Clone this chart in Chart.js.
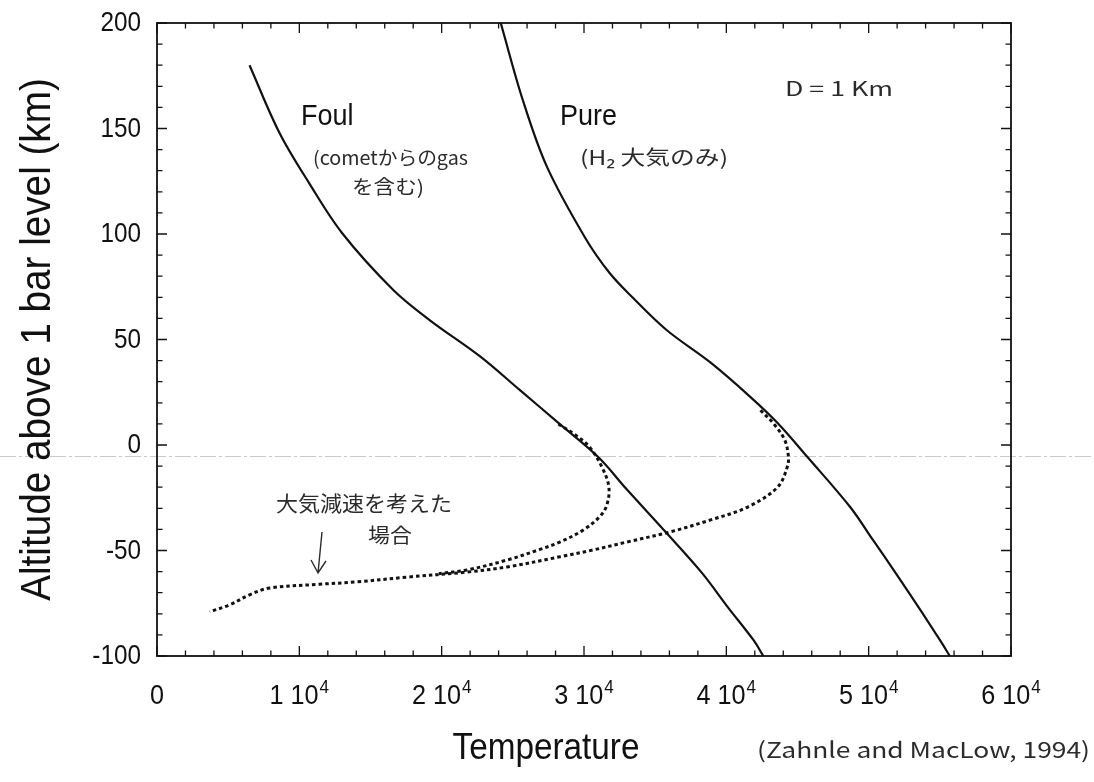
<!DOCTYPE html>
<html>
<head>
<meta charset="utf-8">
<title>Temperature profile</title>
<script src="https://cdn.jsdelivr.net/npm/chart.js@4.4.1/dist/chart.umd.min.js"></script>
<style>
  html, body { margin: 0; padding: 0; background: #fff; }
  #wrap { width: 1094px; height: 782px; }
</style>
</head>
<body>
<div id="wrap"><canvas id="grafico" width="1094" height="782"></canvas></div>
<script>
// solid curves: no deceleration
const foulTemp = [6500, 8600, 10700, 13000, 16600, 19200, 22700, 25500, 28200, 31000, 33000, 35800, 38300, 40100, 41900, 42600];
const foulAlt  = [180, 148, 124, 100.5, 73.5, 59, 42, 26, 10.5, -5.7, -21, -41.7, -60.7, -76.8, -92.4, -100];
const pureTemp = [24150, 25700, 27400, 30100, 31800, 33400, 35800, 38900, 41700, 43600, 45700, 48700, 50300, 51900, 53500, 55000, 55700];
const pureAlt  = [200, 163.5, 131.8, 98, 81.5, 70, 54.5, 39, 22.7, 10.4, -5.7, -29.4, -45, -60.7, -76.8, -92.4, -100];

// dotted curves: atmospheric deceleration included
// the foul branch joins the pure one near -60 km; the pure one carries the common tail
const foulDecelTemp = [28200, 29400, 30400, 31300, 31750, 31600, 31100, 29900, 28300, 26900, 24600, 21800, 19800];
const foulDecelAlt  = [10, 4.7, -1, -11, -20, -28.5, -34, -40.5, -46, -49.5, -54.5, -59.2, -61];
const pureDecelTemp = [42400, 43400, 44100, 44350, 44300, 43600, 41500, 38900, 36050, 33000, 30600, 28300, 24600, 21800, 17600, 14000, 11400, 7900, 6500, 5100, 3700];
const pureDecelAlt  = [16.5, 9.5, 2.4, -4.7, -10, -20, -29.4, -35.5, -41.2, -46, -49.8, -53, -57.8, -60.2, -62.6, -64.9, -66, -67.8, -71, -75.8, -79];

// axes
const tempTicks = [0, 10000, 20000, 30000, 40000, 50000, 60000];
const tempTickLabels = ['0', '1 10^4', '2 10^4', '3 10^4', '4 10^4', '5 10^4', '6 10^4'];
const tempMinorStep = 2000;
const altTicks = [-100, -50, 0, 50, 100, 150, 200];
const altTickLabels = ['-100', '-50', '0', '50', '100', '150', '200'];
const altMinorStep = 10;

const SANS = '"Liberation Sans", Arial, Helvetica, sans-serif';
const HAND = '"Noto Sans CJK JP", "Noto Sans", sans-serif';

function pts(xs, ys) {
    return xs.map((v, i) => ({ x: v, y: ys[i] }));
}

// text helper: horizontal squeeze (sx) or fixed target width
function putText(ctx, text, x, y, size, opt) {
    opt = opt || {};
    const family = opt.family || SANS;
    ctx.save();
    ctx.font = size + 'px ' + family;
    ctx.textBaseline = opt.baseline || 'middle';
    ctx.textAlign = 'left';
    ctx.fillStyle = opt.color || '#111';
    const w = ctx.measureText(text).width;
    const k = opt.width ? opt.width / w : (opt.sx || 0.9);
    ctx.translate(x, y);
    if (opt.rot) ctx.rotate(opt.rot);
    let dx = 0;
    if (opt.align === 'center') dx = -w * k / 2;
    if (opt.align === 'right') dx = -w * k;
    ctx.translate(dx, 0);
    ctx.scale(k, 1);
    ctx.fillText(text, 0, 0);
    ctx.restore();
}

const scanLine = {
    id: 'scanLine',
    beforeDatasetsDraw(chart) {
        const { ctx, width, scales: { y } } = chart;
        const py = Math.round(y.getPixelForValue(-5.2)) + 0.5;
        ctx.save();
        ctx.strokeStyle = 'rgba(150,150,150,0.5)';
        ctx.lineWidth = 1;
        ctx.setLineDash([16, 3, 3, 3]);
        ctx.beginPath();
        ctx.moveTo(0, py);
        ctx.lineTo(width, py);
        ctx.stroke();
        ctx.restore();
    }
};

const frameAndLabels = {
    id: 'frameAndLabels',
    afterDraw(chart) {
        const { ctx, chartArea: a, scales: { x, y } } = chart;
        ctx.save();
        ctx.strokeStyle = '#111';
        ctx.lineWidth = 1.8;
        ctx.strokeRect(a.left, a.top, a.right - a.left, a.bottom - a.top);

        // ticks pointing inward on all four sides
        ctx.lineWidth = 1.3;
        ctx.beginPath();
        for (let v = x.min; v <= x.max; v += tempMinorStep) {
            const px = x.getPixelForValue(v);
            const len = tempTicks.includes(v) ? 10 : 5.5;
            ctx.moveTo(px, a.bottom); ctx.lineTo(px, a.bottom - len);
            ctx.moveTo(px, a.top); ctx.lineTo(px, a.top + len);
        }
        for (let v = y.min; v <= y.max; v += altMinorStep) {
            const py = y.getPixelForValue(v);
            const len = altTicks.includes(v) ? 10 : 5.5;
            ctx.moveTo(a.left, py); ctx.lineTo(a.left + len, py);
            ctx.moveTo(a.right, py); ctx.lineTo(a.right - len, py);
        }
        ctx.stroke();
        ctx.restore();

        // y tick labels
        altTicks.forEach((v, i) => {
            putText(ctx, altTickLabels[i], a.left - 16, y.getPixelForValue(v) + 1, 27, { align: 'right' });
        });

        // x tick labels with superscript exponent
        const base = a.bottom + 48;
        tempTicks.forEach((v, i) => {
            const parts = tempTickLabels[i].split('^');
            const px = x.getPixelForValue(v);
            ctx.save();
            ctx.font = '28px ' + SANS;
            const wb = ctx.measureText(parts[0]).width * 0.9;
            ctx.font = '19px ' + SANS;
            const ws = parts[1] ? ctx.measureText(parts[1]).width * 0.9 + 1 : 0;
            ctx.restore();
            const x0 = px - (wb + ws) / 2;
            putText(ctx, parts[0], x0, base, 28, { baseline: 'alphabetic' });
            if (parts[1]) putText(ctx, parts[1], x0 + wb + 1, base - 11, 19, { baseline: 'alphabetic' });
        });

        // axis titles
        putText(ctx, 'Altitude above 1 bar level (km)', 38, (a.top + a.bottom) / 2, 43,
            { align: 'center', rot: -Math.PI / 2 });
        putText(ctx, 'Temperature', 546, 749, 37, { align: 'center' });

        // curve names
        putText(ctx, 'Foul', 301, 117, 30);
        putText(ctx, 'Pure', 560, 117, 30);

        // handwritten notes
        const hand = { family: HAND, color: '#2b2b2b' };
        putText(ctx, '(cometからのgas', 313, 158, 19, Object.assign({ width: 155 }, hand));
        putText(ctx, 'を含む)', 352, 187, 19, Object.assign({ width: 72 }, hand));
        putText(ctx, '(H₂ 大気のみ)', 580, 157, 20, Object.assign({ width: 148 }, hand));
        putText(ctx, 'D = 1 Km', 785, 88, 20, Object.assign({ width: 108 }, hand));
        putText(ctx, '大気減速を考えた', 276, 503, 21, Object.assign({ width: 176 }, hand));
        putText(ctx, '場合', 368, 535, 20, Object.assign({ width: 44 }, hand));
        putText(ctx, '(Zahnle and MacLow, 1994)', 757, 750, 22, Object.assign({ width: 333 }, hand));

        // arrow to the dotted curves
        ctx.save();
        ctx.strokeStyle = '#2b2b2b';
        ctx.lineWidth = 1.4;
        ctx.beginPath();
        ctx.moveTo(322, 532); ctx.lineTo(318, 573);
        ctx.moveTo(311, 560); ctx.lineTo(318, 573); ctx.lineTo(326, 561);
        ctx.stroke();
        ctx.restore();
    }
};

const ctx = document.getElementById('grafico').getContext('2d');

const solid = { borderColor: '#111', borderWidth: 2.2, pointRadius: 0, tension: 0.35, fill: false };
const dotted = { borderColor: '#111', borderWidth: 3, borderDash: [3.5, 3], pointRadius: 0, tension: 0.35, fill: false };

new Chart(ctx, {
    type: 'line',
    data: {
        datasets: [
            Object.assign({ label: 'Foul', data: pts(foulTemp, foulAlt) }, solid),
            Object.assign({ label: 'Pure', data: pts(pureTemp, pureAlt) }, solid),
            Object.assign({ label: 'Foul (decel.)', data: pts(foulDecelTemp, foulDecelAlt) }, dotted),
            Object.assign({ label: 'Pure (decel.)', data: pts(pureDecelTemp, pureDecelAlt) }, dotted)
        ]
    },
    options: {
        responsive: false,
        animation: false,
        devicePixelRatio: 1,
        layout: { padding: { top: 23, right: 83, bottom: 0, left: 0 } },
        plugins: {
            legend: { display: false },
            tooltip: { enabled: false }
        },
        scales: {
            x: {
                type: 'linear',
                min: 0,
                max: 60000,
                grid: { display: false },
                border: { display: false },
                ticks: { display: false },
                afterFit: function (scale) { scale.height = 126; }
            },
            y: {
                type: 'linear',
                min: -100,
                max: 200,
                grid: { display: false },
                border: { display: false },
                ticks: { display: false },
                afterFit: function (scale) { scale.width = 157; }
            }
        }
    },
    plugins: [scanLine, frameAndLabels]
});
</script>
</body>
</html>
